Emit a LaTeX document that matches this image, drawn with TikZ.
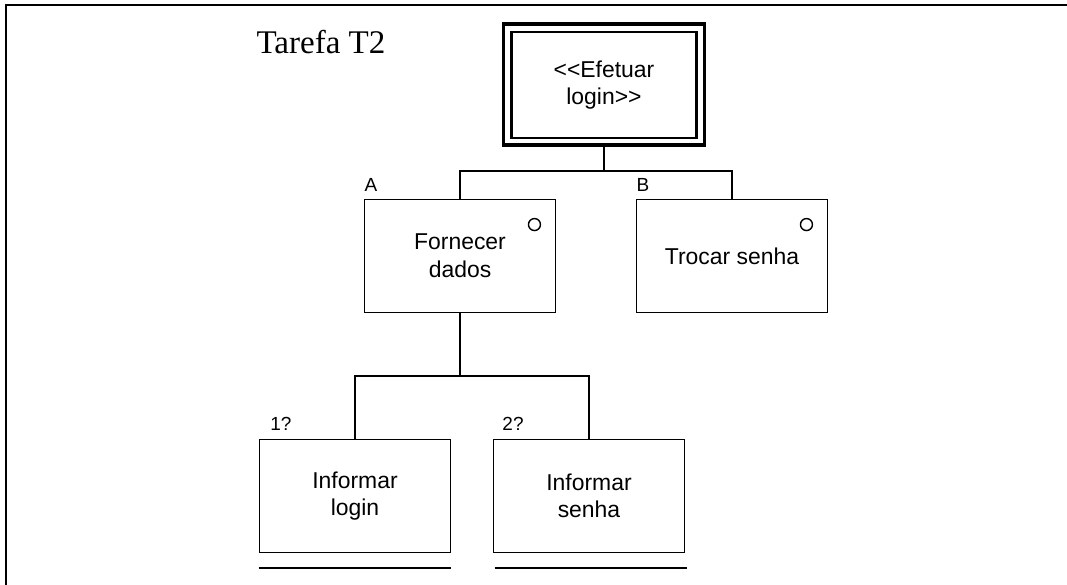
\documentclass[tikz,border=0pt]{standalone}
\usepackage{fontspec}
\setmainfont{Liberation Sans}[Ligatures=TeXOff]
\newfontfamily\serifT{Liberation Serif}
\usetikzlibrary{calc}

\begin{document}
\begin{tikzpicture}[x=0.025cm,y=-0.025cm]

      \useasboundingbox (0,0) rectangle (1067,585);
      \draw[line width=2pt] (6,585) -- (6,5) -- (1067,5);

      \node[font=\serifT\fontsize{23.5}{28}\selectfont] (t2) at (321,42) {Tarefa T2};

      \begin{scope}[every node/.style={rectangle,draw,line width=1.2pt,align=center,
          minimum width=4.78cm,minimum height=2.83cm,font=\fontsize{16.3}{19.6}\selectfont}]
        \node[line width=1.6pt,minimum width=4.62cm,minimum height=2.65cm] (ef) at (604,85) {<<Efetuar\\login>>};
        \node (a)  at (460,256) {Fornecer\\dados};
        \node (b)  at (732,256) {Trocar senha};
        \node (l1) at (355,496) {Informar\\login};
        \node (l2) at (589,496) {Informar\\senha};
      \end{scope}

      \draw[line width=2.6pt] ($(ef.north west)+(-7,-7)$) rectangle ($(ef.south east)+(7,6)$);

      \begin{scope}[every node/.style={font=\fontsize{13.5}{16}\selectfont}]
        \node (la)  at (371,185) {A};
        \node (lb)  at (643,185) {B};
        \node (l1n) at (281,424) {1?};
        \node (l2n) at (513,424) {2?};
      \end{scope}

      % optional marks
      \draw[line width=1pt] ($(a.north east)+(-22,26)$) circle (6);
      \draw[line width=1pt] ($(b.north east)+(-22,26)$) circle (6);

      % connectors
      \draw[line width=2pt] ($(ef.south)+(0,6)$) -- (604,171) coordinate (j1);
      \draw[line width=1.2pt] (a.north) |- (j1) -| (b.north);
      \draw[line width=2pt] (a.south) -- (460,376) coordinate (j2);
      \draw[line width=1.2pt] (l1.north) |- (j2) -| (l2.north);

      % sequence lines
      \draw[line width=1.4pt] ($(l1.south west)+(0,15)$) -- ($(l1.south east)+(0,15)$);
      \draw[line width=1.4pt] ($(l2.south west)+(2,15)$) -- ($(l2.south east)+(2,15)$);

\end{tikzpicture}
\end{document}
